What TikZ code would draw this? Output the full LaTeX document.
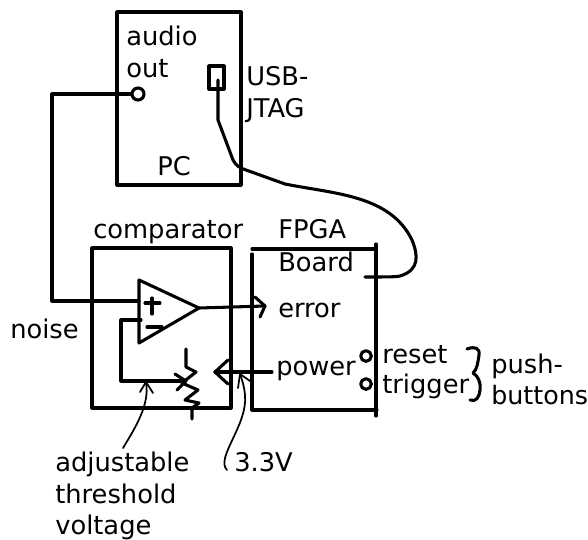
\documentclass[tikz,border=0pt]{standalone}
\usepackage{fontspec}
\setmainfont{DejaVu Sans}
\tikzset{
  ink/.style={line width=2.3pt,black,line cap=round,line join=round},
  thin ink/.style={line width=1.3pt,black,line cap=round,line join=round},
  lbl/.style={inner sep=0pt,anchor=base west,font=\fontsize{19.3pt}{23pt}\selectfont}
}
\begin{document}
\begin{tikzpicture}[x=0.75pt,y=-0.75pt]
\useasboundingbox (0,0) rectangle (588,539);
% labels
\node[lbl] (audio) at (126,45) {audio};
\node[lbl] (out) at (126,77) {out};
\node[lbl] (usb) at (246,85) {USB-};
\node[lbl] (jtag) at (246,117) {JTAG};
\node[lbl] (pc) at (157,175) {PC};
\node[lbl] (comp) at (93,238) {comparator};
\node[lbl] (fpga) at (278,238) {FPGA};
\node[lbl] (board) at (278,271) {Board};
\node[lbl] (noise) at (10,338) {noise};
\node[lbl] (error) at (278,317) {error};
\node[lbl] (power) at (276,375) {power};
\node[lbl] (reset) at (382,363) {reset};
\node[lbl] (trigger) at (382,393) {trigger};
\node[lbl] (push) at (491,373) {push-};
\node[lbl,font=\fontsize{19pt}{23pt}\selectfont] (buttons) at (491,404) {buttons};
\node[lbl] (adj) at (55,471) {adjustable};
\node[lbl] (thr) at (55,503) {threshold};
\node[lbl] (volt) at (55,534) {voltage};
\node[lbl] (v33) at (234,471) {3.3V};
% PC
\node[draw,ink,inner sep=0pt,minimum width=124*0.75pt,minimum height=173*0.75pt] (pcbox) at (179,98.5) {};
\node[draw,ink,circle,inner sep=0pt,minimum size=9pt] (jack) at (138,94) {};
\node[draw,ink,inner sep=0pt,minimum width=15*0.75pt,minimum height=23*0.75pt] (port) at (216.5,77.5) {};
% Comparator
\node[draw,ink,inner sep=0pt,minimum width=139*0.75pt,minimum height=160*0.75pt] (compbox) at (161.5,328) {};
\coordinate (ta) at (139,280);
\coordinate (tb) at (139,343);
\coordinate (tc) at (199,308);
\draw[ink] (ta) -- (tc) -- (tb) -- cycle;
\draw[ink] (145,303) -- (160,303) (152,298) -- (152,314);
\draw[ink] (147,327) -- (162,327);
% noise input
\coordinate (n0) at (52,94);
\coordinate (n1) at (52,301);
\draw[ink] (jack.west) -- (n0) -- (n1) -- (ta |- n1);
% feedback to threshold
\coordinate (f0) at (141,320);
\coordinate (f1) at (121,320);
\coordinate (f2) at (121,381);
\coordinate (wip) at (185,381);
\draw[ink] (f0) -- (f1) -- (f2) -- (wip);
% potentiometer
\draw[ink] (186,349) -- (186,367) -- (196,372) -- (182,383) -- (198,390) -- (185,400) -- (199,403) -- (192,408) -- (192,419);
\draw[ink] (175,374) -- (186,381) -- (177,390);
% error arrow
\coordinate (e1) at (265,306);
\draw[ink] (tc) -- (e1);
\draw[ink] (255,297) -- (265,306) -- (260,317);
% power arrow
\coordinate (p0) at (272,372);
\coordinate (p1) at (215,372);
\draw[ink] (p0) -- (p1);
\draw[ink] (228,360) -- (p1) -- (228,384);
% FPGA
\coordinate (fa) at (252,249);
\coordinate (fb) at (376,249);
\coordinate (fc) at (252,254);
\coordinate (fd) at (252,410);
\coordinate (fe) at (377,410);
\coordinate (ff) at (376,244);
\coordinate (fg) at (376,416);
\draw[ink] (fa) -- (fb);
\draw[ink] (fc) -- (fd) -- (fe);
\draw[ink] (ff) -- (fg);
\draw[ink,line width=3pt] (375.5,255) -- (375.5,300);
% USB cable
\draw[ink] (218,80) -- (218,120) -- (233,160) .. controls (236,166) and (240,168) .. (246,170)
  -- (285,184) .. controls (335,194) and (390,195) .. (412,240)
  .. controls (418,255) and (420,270) .. (400,276) .. controls (396,277) and (385,277) .. (365,277);
% buttons
\node[draw,ink,circle,inner sep=0pt,minimum size=8pt] (b1) at (366,356) {};
\node[draw,ink,circle,inner sep=0pt,minimum size=8pt] (b2) at (366,384) {};
% brace
\draw[ink] (467,349) .. controls (475,346) and (480,348) .. (479,355) .. controls (478,362) and (477,370) .. (473,373)
  .. controls (478,376) and (481,382) .. (480,390) .. controls (479,398) and (476,402) .. (470,400);
% callouts
\draw[thin ink] (123,448) .. controls (135,428) and (150,405) .. (146,382);
\draw[thin ink] (140,392) -- (146,382) -- (153,393);
\draw[thin ink] (227,470) .. controls (215,458) and (248,425) .. (245,395) .. controls (244,385) and (242,380) .. (240,374);
\draw[thin ink] (238,388) -- (240,374) -- (250,381);
\end{tikzpicture}
\end{document}
